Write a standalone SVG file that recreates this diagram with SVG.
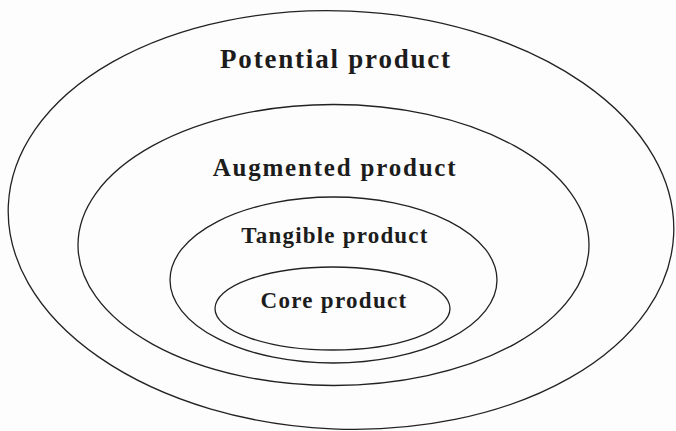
<svg xmlns="http://www.w3.org/2000/svg" width="676" height="431" viewBox="0 0 676 431">
<style>
.ring{fill:none;stroke:#222;stroke-width:1.3}
.lbl{font-family:"Liberation Serif","Times New Roman",serif;font-weight:bold;fill:#1c1c1c;text-anchor:middle}
</style>
<rect width="676" height="431" fill="#fdfdfd"/>
<g id="potential">
<ellipse class="ring" cx="341" cy="220" rx="333" ry="209" transform="rotate(2.5 341 220)"/>
<text class="lbl" x="336" y="68" font-size="27" letter-spacing="1.8">Potential product</text>
</g>
<g id="augmented">
<ellipse class="ring" cx="333.5" cy="245" rx="255.5" ry="140.5"/>
<text class="lbl" x="335" y="176" font-size="25" letter-spacing="1.8">Augmented product</text>
</g>
<g id="tangible">
<ellipse class="ring" cx="333.5" cy="280" rx="163.5" ry="83"/>
<text class="lbl" x="335" y="243" font-size="23" letter-spacing="1.2">Tangible product</text>
</g>
<g id="core">
<ellipse class="ring" cx="332.5" cy="308.5" rx="117.5" ry="41.5"/>
<text class="lbl" x="334" y="308" font-size="23" letter-spacing="1.3">Core product</text>
</g>
<g id="connectors"/>
</svg>
